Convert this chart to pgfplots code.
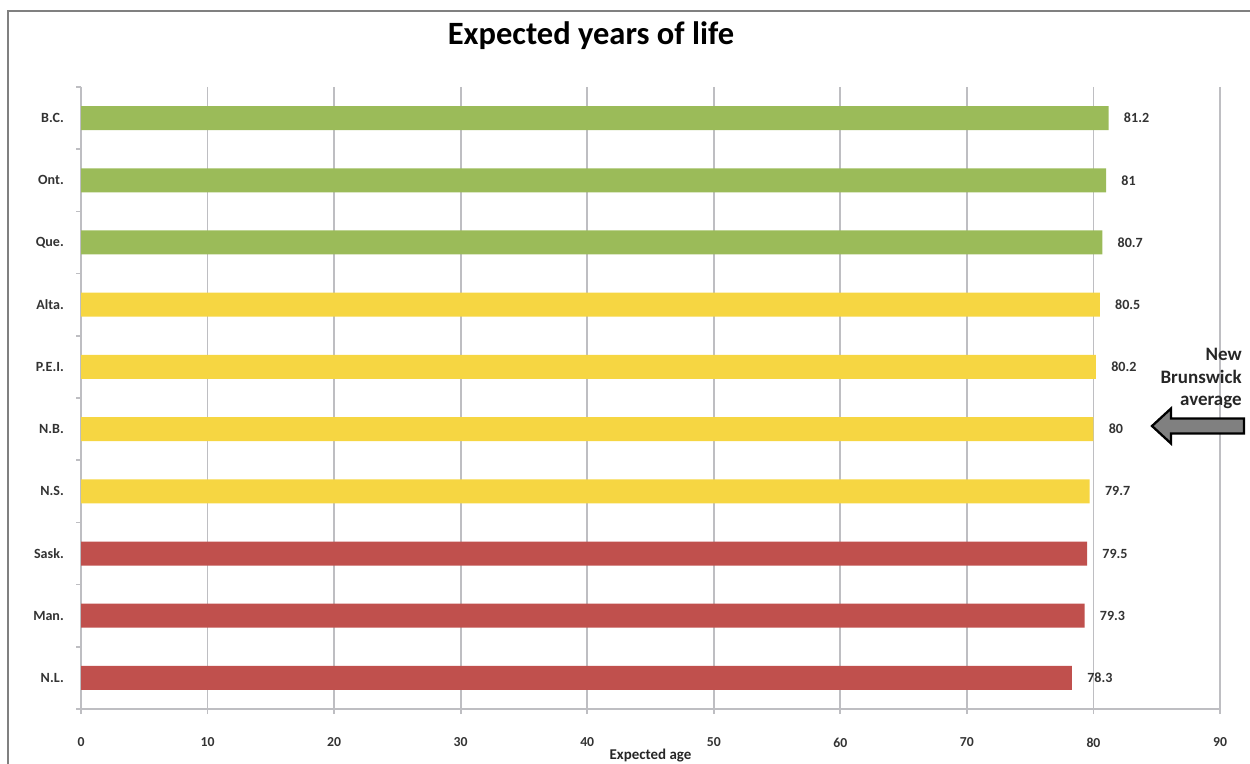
\documentclass[border=0pt]{standalone}
\usepackage{pgfplots}
\pgfplotsset{compat=1.18}
\usepackage{fontspec}
\setmainfont{Carlito}

\definecolor{barGreen}{RGB}{155,187,89}
\definecolor{barYellow}{RGB}{246,214,66}
\definecolor{barRed}{RGB}{192,80,77}
\definecolor{gridGray}{RGB}{190,190,194}
\definecolor{frameGray}{RGB}{128,128,128}

% life expectancy by province, top to bottom
\pgfplotstableread{
pos value
0 81.2
1 81.0
2 80.7
}\greenrows
\pgfplotstableread{
pos value
3 80.5
4 80.2
5 80.0
6 79.7
}\yellowrows
\pgfplotstableread{
pos value
7 79.5
8 79.3
9 78.3
}\redrows

\begin{document}
\begin{tikzpicture}[x=1cm,y=1cm]
\path[use as bounding box] (0,0) rectangle (25,15.26);
\begin{scope}
\clip (0,0) rectangle (25,15.26);
\draw[frameGray, line width=1.2pt] (0.16,-2) -- (0.16,15.04) -- (27,15.04);

\node[anchor=base, font=\bfseries\fontsize{18.5}{20}\selectfont] at (11.82,14.36) {Expected years of life};

\begin{axis}[
  at={(1.62cm,1.08cm)}, anchor=south west,
  scale only axis,
  width=22.78cm, height=12.44cm,
  xmin=0, xmax=90,
  ymin=-0.5, ymax=9.5,
  y dir=reverse,
  xbar, bar width=0.48cm, bar shift=0pt,
  axis x line*=bottom,
  axis y line*=left,
  axis line style={gridGray, line width=1pt},
  xtick={0,10,...,90},
  xmajorgrids,
  major grid style={gridGray, line width=1pt},
  ytick={0,...,9},
  yticklabels={B.C.,Ont.,Que.,Alta.,P.E.I.,N.B.,N.S.,Sask.,Man.,N.L.},
  minor ytick={-0.5,0.5,...,9.5},
  major y tick style={draw=none},
  minor y tick style={gridGray, line width=1pt},
  major x tick style={gridGray, line width=1pt},
  tick align=outside,
  major tick length=0.1cm,
  minor tick length=0.1cm,
  /pgf/number format/assume math mode=true,
  xticklabel style={font=\bfseries\fontsize{7.8}{9}\selectfont, text=black!80, yshift=-0.35cm},
  yticklabel style={font=\bfseries\fontsize{8}{9}\selectfont, text=black!80, xshift=-0.12cm},
  xlabel={Expected age},
  xlabel style={font=\bfseries\fontsize{8.5}{10}\selectfont, text=black!85, yshift=0.2cm},
  nodes near coords,
  point meta=x,
  every node near coord/.append style={anchor=west, inner sep=0pt, xshift=0.3cm,
    font=\bfseries\fontsize{8}{9}\selectfont, text=black!80},
  clip=false,
]
\addplot[draw=none, fill=barGreen] table[x=value, y=pos] {\greenrows};
\addplot[draw=none, fill=barYellow] table[x=value, y=pos] {\yellowrows};
\addplot[draw=none, fill=barRed] table[x=value, y=pos] {\redrows};
\end{axis}

% block arrow pointing at the N.B. bar
\draw[black, line width=1.3pt, fill=frameGray, line join=miter]
  (23.04,6.74) -- (23.42,7.09) -- (23.42,6.89) -- (24.88,6.89)
  -- (24.88,6.59) -- (23.42,6.59) -- (23.42,6.39) -- cycle;

\node[anchor=north east, align=right, inner sep=0pt, font=\bfseries\fontsize{10.8}{12.8}\selectfont, text=black!85]
  at (24.84,8.3) {New\\Brunswick\\average};
\end{scope}
\end{tikzpicture}
\end{document}
